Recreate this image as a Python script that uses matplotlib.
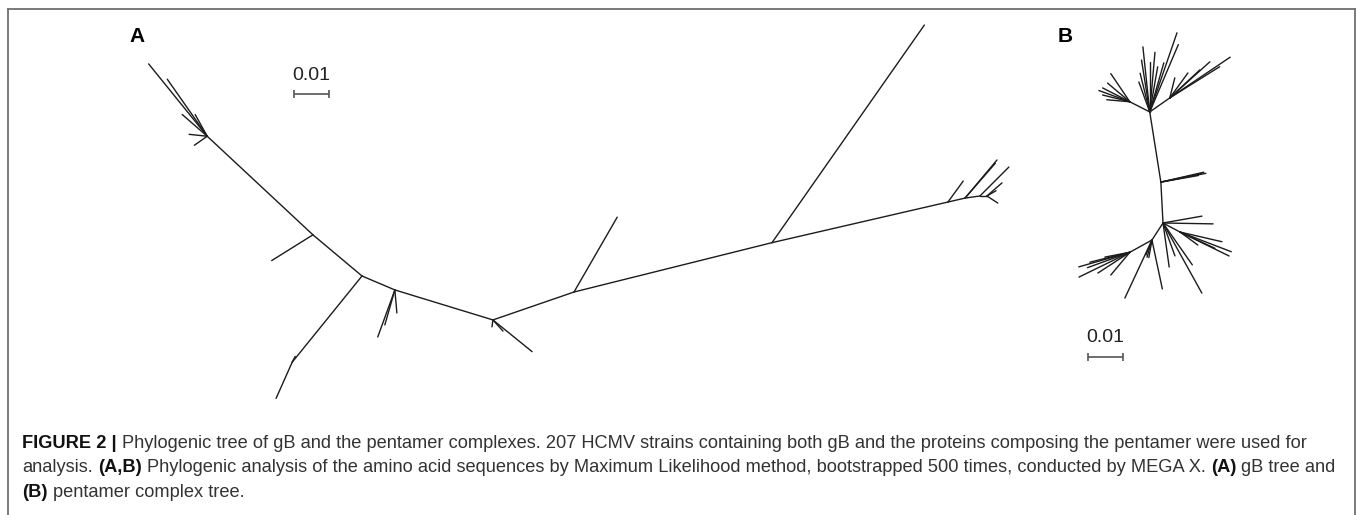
import numpy as np
import matplotlib
matplotlib.use("Agg")
import matplotlib.pyplot as plt
from matplotlib.collections import LineCollection
from matplotlib.lines import Line2D

W, H = 1358, 515
PX_PER_UNIT = 3500  # 0.01 substitutions/site = 35 px

# branches: (parent, child or None for a leaf, length, angle in degrees)
tree_a = [
    ("r", "a1", 0.0183, 140), ("a1", None, 0.0139, 212),
    ("a1", "a2", 0.0413, 137), ("a2", None, 0.0045, 215),
    ("a2", None, 0.0266, 129), ("a2", None, 0.0199, 125),
    ("a2", None, 0.0095, 139), ("a2", None, 0.0071, 119),
    ("a2", None, 0.0052, 174),
    ("r", "b1", 0.0317, 231), ("b1", None, 0.0113, 246), ("b1", None, 0.0019, 63),
    ("r", "c1", 0.0102, 337), ("c1", None, 0.0143, 250), ("c1", None, 0.0104, 254),
    ("c1", None, 0.0066, 275),
    ("c1", "d1", 0.0293, 343), ("d1", None, 0.0144, 321), ("d1", None, 0.0020, 262),
    ("d1", None, 0.0043, 312),
    ("d1", "e1", 0.0245, 19), ("e1", None, 0.0247, 60),
    ("e1", "e2", 0.0583, 14), ("e2", None, 0.0759, 55),
    ("e2", "f1", 0.0516, 13), ("f1", None, 0.0074, 54),
    ("f1", "f2", 0.0050, 13), ("f2", None, 0.0142, 50), ("f2", None, 0.0132, 49),
    ("f2", "f3", 0.0043, 8), ("f3", None, 0.0117, 45),
    ("f3", "f4", 0.0020, 0), ("f4", None, 0.0057, 41), ("f4", None, 0.0037, 327),
    ("f4", None, 0.0030, 30),
]

tree_b = [
    ("r", "m", 0.0117, 93),
    ("m", None, 0.0131, 11), ("m", None, 0.0120, 12), ("m", None, 0.0109, 10),
    ("m", None, 0.0126, 13),
    ("m", "u", 0.0203, 99),
    ("u", "ul", 0.0064, 153),
    ("ul", None, 0.0094, 160), ("ul", None, 0.0066, 175), ("ul", None, 0.0097, 124),
    ("ul", None, 0.0087, 153), ("ul", None, 0.0080, 166), ("ul", None, 0.0083, 140),
    ("u", None, 0.0187, 96), ("u", None, 0.0150, 99), ("u", None, 0.0143, 90),
    ("u", None, 0.0091, 110), ("u", None, 0.0131, 80), ("u", None, 0.0239, 71),
    ("u", None, 0.0209, 67), ("u", None, 0.0146, 74), ("u", None, 0.0114, 104),
    ("u", None, 0.0171, 85),
    ("u", "ur", 0.0070, 35),
    ("ur", None, 0.0208, 34), ("ur", None, 0.0154, 42), ("ur", None, 0.0168, 32),
    ("ur", None, 0.0088, 54), ("ur", None, 0.0059, 76), ("ur", None, 0.0117, 43),
    ("r", None, 0.0113, 10), ("r", None, 0.0143, 359),
    ("r", "ll", 0.0058, 237),
    ("ll", "lf", 0.0072, 209),
    ("lf", None, 0.0152, 196), ("lf", None, 0.0162, 206), ("lf", None, 0.0109, 213),
    ("lf", None, 0.0085, 230), ("lf", None, 0.0073, 191), ("lf", None, 0.0118, 194),
    ("lf", None, 0.0129, 200),
    ("ll", None, 0.0183, 245), ("ll", None, 0.0143, 282), ("ll", None, 0.0051, 254),
    ("ll", None, 0.0051, 260), ("ll", None, 0.0046, 248),
    ("r", None, 0.0127, 278), ("r", None, 0.0229, 299), ("r", None, 0.0146, 305),
    ("r", None, 0.0100, 290),
    ("r", "lr", 0.0055, 332),
    ("lr", None, 0.0157, 339), ("lr", None, 0.0156, 334), ("lr", None, 0.0123, 347),
    ("lr", None, 0.0063, 324), ("lr", None, 0.0110, 335),
]

scale_len = 0.01
scale_label = "0.01"

caption = [
    [("FIGURE 2 |", True),
     ("Phylogenic tree of gB and the pentamer complexes. 207 HCMV strains containing "
      "both gB and the proteins composing the pentamer were used for", False)],
    [("analysis.", False), ("(A,B)", True),
     ("Phylogenic analysis of the amino acid sequences by Maximum Likelihood method, "
      "bootstrapped 500 times, conducted by MEGA X.", False),
     ("(A)", True), ("gB tree and", False)],
    [("(B)", True), ("pentamer complex tree.", False)],
]


def branch_segments(edges):
    pos = {"r": (0.0, 0.0)}
    segs = []
    for parent, child, length, ang in edges:
        x0, y0 = pos[parent]
        t = np.deg2rad(ang)
        x1, y1 = x0 + length * np.cos(t), y0 + length * np.sin(t)
        if child:
            pos[child] = (x1, y1)
        segs.append([(x0, y0), (x1, y1)])
    return segs


def tree_axes(fig, root_px, box_px):
    x0, y0, x1, y1 = box_px
    rx, ry = root_px
    ax = fig.add_axes([x0 / W, 1 - y1 / H, (x1 - x0) / W, (y1 - y0) / H])
    ax.set_xlim((x0 - rx) / PX_PER_UNIT, (x1 - rx) / PX_PER_UNIT)
    ax.set_ylim((ry - y1) / PX_PER_UNIT, (ry - y0) / PX_PER_UNIT)
    ax.axis("off")
    return ax


def scale_bar(ax, x, y):
    ax.plot([x, x + scale_len], [y, y], color="#555555", lw=1.2,
            clip_on=False, solid_capstyle="butt")
    ax.plot([x, x + scale_len], [y, y], ls="none", marker="|", ms=6,
            mew=1.2, color="#555555", clip_on=False)
    ax.text(x + scale_len / 2, y + 19 / PX_PER_UNIT, scale_label, ha="center",
            va="center", fontsize=14, family="Liberation Sans", color="#222222")


fig = plt.figure(figsize=(W / 100, H / 100), dpi=100)

ax_a = tree_axes(fig, (362, 276), (100, 12, 1050, 410))
ax_a.add_collection(LineCollection(branch_segments(tree_a), colors="#1c1c1c",
                                   linewidths=1.0, capstyle="round"))
scale_bar(ax_a, -68 / PX_PER_UNIT, 182 / PX_PER_UNIT)

ax_b = tree_axes(fig, (1163, 223), (1060, 12, 1260, 410))
ax_b.add_collection(LineCollection(branch_segments(tree_b), colors="#1c1c1c",
                                   linewidths=1.0, capstyle="round"))
scale_bar(ax_b, -75 / PX_PER_UNIT, -134 / PX_PER_UNIT)

fig.text(137 / W, 1 - 37 / H, "A", fontsize=15, fontweight="bold",
         family="Liberation Sans", ha="center", va="center")
fig.text(1065 / W, 1 - 37 / H, "B", fontsize=15, fontweight="bold",
         family="Liberation Sans", ha="center", va="center")

# frame
frame = dict(transform=fig.transFigure, color="#707070", lw=1.3)
fig.add_artist(Line2D([8 / W, 8 / W], [0, 1 - 9 / H], **frame))
fig.add_artist(Line2D([8 / W, 1355 / W], [1 - 9 / H, 1 - 9 / H], **frame))
fig.add_artist(Line2D([1355 / W, 1355 / W], [0, 1 - 9 / H], **frame))

# caption, pieces laid out one after another
renderer = fig.canvas.get_renderer()
from matplotlib.font_manager import FontProperties


def props(bold, size):
    return FontProperties(family="Liberation Sans", size=size,
                          weight="bold" if bold else "normal")


def advance(s, bold, size):
    p = props(bold, size)
    w1 = renderer.get_text_width_height_descent("x" + s + "x", p, ismath=False)[0]
    w0 = renderer.get_text_width_height_descent("xx", p, ismath=False)[0]
    return w1 - w0


def line_width(pieces, size):
    total = 0
    for i, (s, b) in enumerate(pieces):
        total += advance(s, b, size)
        if i < len(pieces) - 1:
            total += advance(" ", False, size)
    return total


base = 10.0
size = base * (1339 - 22) / line_width(caption[1], base)
baselines = [448, 472.5, 497]
for pieces, yb in zip(caption, baselines):
    x = 22
    for s, b in pieces:
        fig.text(x / W, 1 - yb / H, s, fontproperties=props(b, size),
                 color="#111111" if b else "#333333", ha="left", va="baseline")
        x += advance(s, b, size) + advance(" ", False, size)

fig.savefig("out.png", dpi=100)
